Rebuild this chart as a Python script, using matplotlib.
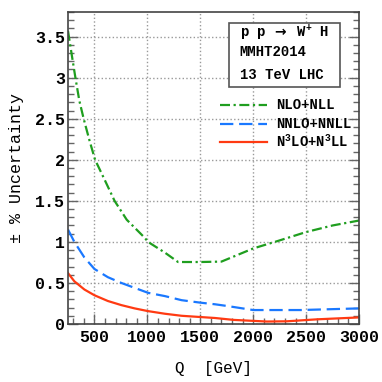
import matplotlib
matplotlib.use("Agg")
import matplotlib.pyplot as plt
from matplotlib.ticker import MultipleLocator
from matplotlib.patches import Rectangle

# NLO+NLL
q_nlo = [250, 284, 320, 357, 398, 452, 506, 595, 690, 805, 975, 1006, 1165, 1290,
         1500, 1700, 2000, 2230, 2500, 2750, 3000]
u_nlo = [3.57, 3.29, 3.00, 2.72, 2.50, 2.24, 2.00, 1.76, 1.50, 1.27, 1.05, 1.00, 0.87, 0.755,
         0.755, 0.76, 0.92, 1.01, 1.12, 1.20, 1.26]

# NNLO+NNLL
q_nnlo = [250, 310, 405, 500, 627, 754, 880, 1006, 1165, 1324, 1500, 1640, 1750, 2000,
          2450, 3000]
u_nnlo = [1.15, 1.00, 0.81, 0.67, 0.57, 0.50, 0.44, 0.38, 0.34, 0.29, 0.26, 0.24, 0.22, 0.17,
          0.17, 0.19]

# N3LO+N3LL
q_n3lo = [250, 310, 405, 500, 627, 754, 880, 1006, 1165, 1324, 1500, 1640, 1814, 2130,
          2320, 2605, 3000]
u_n3lo = [0.62, 0.52, 0.42, 0.35, 0.28, 0.23, 0.19, 0.157, 0.125, 0.10, 0.085, 0.073, 0.05, 0.03,
          0.033, 0.057, 0.08]

labels = ["NLO+NLL", "NNLO+NNLL", r"N$^3$LO+N$^3$LL"]
info_lines = [r"p p $\mathsf{\rightarrow}$ W$^{+}$ H", "MMHT2014", "13 TeV LHC"]
yticks = [0, 0.5, 1, 1.5, 2, 2.5, 3, 3.5]
ytick_labels = ['0', '0.5', '1', '1.5', '2', '2.5', '3', '3.5']

plt.rcParams['font.family'] = ['Liberation Mono', 'DejaVu Sans Mono']
plt.rcParams['font.weight'] = 'bold'
plt.rcParams['mathtext.fontset'] = 'custom'
plt.rcParams['mathtext.rm'] = 'Liberation Mono:bold'
plt.rcParams['mathtext.it'] = 'Liberation Mono:bold'
plt.rcParams['mathtext.bf'] = 'Liberation Mono:bold'
plt.rcParams['mathtext.sf'] = 'DejaVu Sans'
plt.rcParams['mathtext.fallback'] = 'stix'

styles = [
    dict(color='#1f9e1f', lw=1.6, ls=(0, (4.5, 1.6, 1.0, 1.6))),
    dict(color='#1a78ff', lw=1.6, ls=(0, (6, 2.6))),
    dict(color='#ff3a12', lw=1.6, ls='-'),
]

fig = plt.figure(figsize=(3.82, 3.82), dpi=100)
ax = fig.add_axes([68/382, 58/382, 291/382, 312/382])

for (q, u), st in zip([(q_nlo, u_nlo), (q_nnlo, u_nnlo), (q_n3lo, u_n3lo)], styles):
    ax.plot(q, u, **st)

ax.set_xlim(250, 3000)
ax.set_ylim(0, 3.8)
ax.xaxis.set_major_locator(MultipleLocator(500))
ax.xaxis.set_minor_locator(MultipleLocator(100))
ax.set_yticks(yticks)
ax.set_yticklabels(ytick_labels)
ax.yaxis.set_minor_locator(MultipleLocator(0.1))
ax.tick_params(which='both', direction='in', right=True, top=False, labelsize=12,
               color='#666666')
ax.tick_params(which='major', length=7, width=1)
ax.tick_params(which='minor', length=4, width=1)
ax.tick_params(axis='x', pad=4)
ax.tick_params(axis='y', pad=2)
ax.grid(True, which='major', ls=':', color='#999999', lw=1.0)
for s in ax.spines.values():
    s.set_color('#444444')
    s.set_linewidth(1.2)

ax.set_xlabel('Q  [GeV]', fontsize=11.5, labelpad=12)
ax.set_ylabel('± % Uncertainty', fontsize=12, labelpad=8)

# info box
ax.add_patch(Rectangle((0.553, 0.760), 0.382, 0.205, transform=ax.transAxes,
                       fc='white', ec='#555555', lw=1.2, zorder=5))
for yy, t in zip([0.933, 0.872, 0.798], info_lines):
    ax.text(0.590, yy, t, transform=ax.transAxes, fontsize=10, va='center',
            ha='left', zorder=6)

# legend
for yy, st, lab in zip([0.702, 0.641, 0.583], styles, labels):
    ax.plot([0.522, 0.684], [yy, yy], transform=ax.transAxes, **st)
    ax.text(0.715, yy, lab, transform=ax.transAxes, fontsize=10, va='center', ha='left')

fig.savefig('out.png', dpi=100)
